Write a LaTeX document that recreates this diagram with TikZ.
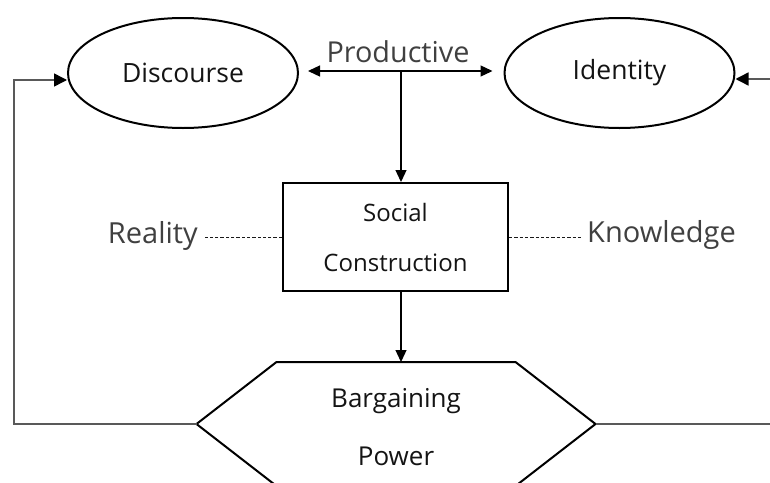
\documentclass[tikz,border=0pt]{standalone}
\usepackage{fontspec}
\setmainfont{Open Sans}
\usetikzlibrary{shapes.geometric,arrows.meta,calc}
\begin{document}
\begin{tikzpicture}[x=1pt,y=-1pt,
  >={Triangle[length=12pt,width=11pt,color=black]},
  shapeline/.style={draw=black,line width=2pt},
  oval/.style={shapeline,ellipse,minimum width=230pt,minimum height=110pt,inner sep=0pt,font=\fontsize{26.5}{30}\selectfont,text=black!92},
  arr/.style={line width=1.3pt,->},
  fbarr/.style={draw=black!65,line width=1.5pt,-{Triangle[length=13pt,width=13pt,color=black]}},
  dotl/.style={line width=1pt,dash pattern=on 3.3pt off 2pt,draw=black!90},
  outer/.style={font=\fontsize{29}{34}\selectfont,text=black!75,inner sep=0pt},
  innertext/.style={text=black!92,inner sep=0pt,align=center}
]
\useasboundingbox (0,0) rectangle (770,482);
\clip (0,0) rectangle (770,482);
\fill[white] (0,0) rectangle (770,482);

% ellipses
\node[oval] (Discourse) at (183,73) {Discourse};
\node[oval] (Identity) at (619.5,73) {\raisebox{-2pt}{Identity}};

% Productive label and double arrow
\node[outer,anchor=base,font=\fontsize{28.8}{33}\selectfont] (Prod) at (398,62) {Productive};
\draw[line width=1.3pt,<->,shorten <=9pt,shorten >=11pt]
  ([yshift=2pt]Discourse.east) -- ([yshift=2pt]Identity.west);

% Social construction box
\node[shapeline,rectangle,minimum width=225pt,minimum height=108pt,innertext,
      font=\fontsize{24}{50}\selectfont] (Box) at (395.5,237) {Social\\Construction};

\coordinate (pJ) at (401,72);
\draw[arr] (pJ) -- (pJ |- Box.north);

% side labels
\node[outer,anchor=base east] (Reality) at (198,243) {Reality};
\node[outer,anchor=base west] (Knowledge) at (587,242) {Knowledge};
\draw[dotl,shorten >=5pt] (Box.west) -- (Box.west -| Reality.east);
\draw[dotl,shorten >=4pt] (Box.east) -- (Box.east -| Knowledge.west);

% hexagon
\coordinate (hL) at (196.5,424);
\coordinate (hR) at (595.5,424);
\coordinate (hT) at (401,362);
\draw[shapeline,line join=miter] (hL) -- (276.5,362) -- (515.5,362) -- (hR) -- (515.5,486) -- (276.5,486) -- cycle;
\node[innertext,font=\fontsize{26}{58}\selectfont] (Hex) at (396,427) {Bargaining\\Power};

\draw[arr] (hT |- Box.south) -- (hT);

% feedback loops
\coordinate (cL) at (14,80);
\coordinate (cR) at (780,79);
\draw[fbarr] (hL) -| (cL) -- (cL -| Discourse.west);
\draw[fbarr] (hR) -| (cR) -- (cR -| Identity.east);
\end{tikzpicture}
\end{document}
